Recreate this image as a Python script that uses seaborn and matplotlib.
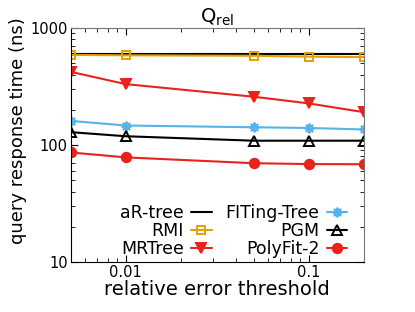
import matplotlib
matplotlib.use("Agg")
import matplotlib.pyplot as plt
import seaborn as sns
import pandas as pd
from matplotlib.ticker import FixedLocator, FixedFormatter, LogLocator, NullFormatter

sns.set_style("ticks")
plt.rcParams['font.family'] = ['DejaVu Sans']
plt.rcParams.update({"text.color": "black", "axes.labelcolor": "black",
                     "xtick.color": "black", "ytick.color": "black"})

thresholds = [0.005, 0.01, 0.05, 0.1, 0.2]
ar_tree = [600, 600, 600, 600, 600]
rmi = [590, 585, 580, 570, 565]
mrtree = [423, 332, 259, 227, 191]
fiting_tree = [161, 147, 142, 140, 136]
pgm = [129, 119, 109, 109, 109]
polyfit2 = [86.5, 78.5, 70, 68.8, 68.6]

series = [
    ("aR-tree", ar_tree, "black", None, "full", 0),
    ("RMI", rmi, "#E69F00", "s", "none", 6),
    ("MRTree", mrtree, "#E8231B", "v", "full", 7.5),
    ("FITing-Tree", fiting_tree, "#56B4E9", (8, 2, 0), "full", 7),
    ("PGM", pgm, "black", "^", "none", 6.5),
    ("PolyFit-2", polyfit2, "#E8231B", "o", "full", 6.8),
]

fig = plt.figure(figsize=(4.15, 3.12), dpi=100)
ax = fig.add_axes([0.170, 0.160, 0.707, 0.750])

for name, vals, color, marker, fill, ms in series:
    df = pd.DataFrame({"x": thresholds, "y": vals})
    kw = dict(color=color, linewidth=1.5, label=name)
    if marker is not None:
        kw.update(marker=marker, markersize=ms, fillstyle=fill,
                  markeredgewidth=1.4, markeredgecolor=color)
    sns.lineplot(data=df, x="x", y="y", ax=ax, **kw)

ax.set_xscale("log")
ax.set_yscale("log")
ax.set_xlim(0.005, 0.2)
ax.set_ylim(10, 1000)

ax.xaxis.set_major_locator(FixedLocator([0.01, 0.1]))
ax.xaxis.set_major_formatter(FixedFormatter(["0.01", "0.1"]))
ax.xaxis.set_minor_locator(LogLocator(base=10, subs=range(2, 10)))
ax.xaxis.set_minor_formatter(NullFormatter())
ax.yaxis.set_major_locator(FixedLocator([10, 100, 1000]))
ax.yaxis.set_major_formatter(FixedFormatter(["10", "100", "1000"]))
ax.yaxis.set_minor_locator(LogLocator(base=10, subs=range(2, 10)))
ax.yaxis.set_minor_formatter(NullFormatter())

ax.tick_params(which="both", direction="in", top=True, right=True, labelsize=10.5, pad=2)
ax.tick_params(which="major", length=5)
ax.tick_params(which="minor", length=3)

ax.spines["left"].set_color("black")
ax.spines["bottom"].set_color("black")
ax.spines["top"].set_color("#777777")
ax.spines["right"].set_color("#777777")

ax.set_xlabel("relative error threshold", fontsize=14, labelpad=0)
ax.set_ylabel("query response time (ns)", fontsize=13, labelpad=3)
ax.yaxis.set_label_coords(-0.148, 0.56)
ax.set_title(r"Q$_{\mathrm{rel}}$", fontsize=14, pad=3)

ax.legend(ncol=2, loc="lower right", bbox_to_anchor=(0.985, -0.035), frameon=False,
          markerfirst=False, fontsize=12.5, handlelength=1.2, columnspacing=0.8,
          labelspacing=0.0, handletextpad=0.4, borderaxespad=0.3)

fig.savefig("out.png", dpi=100)
